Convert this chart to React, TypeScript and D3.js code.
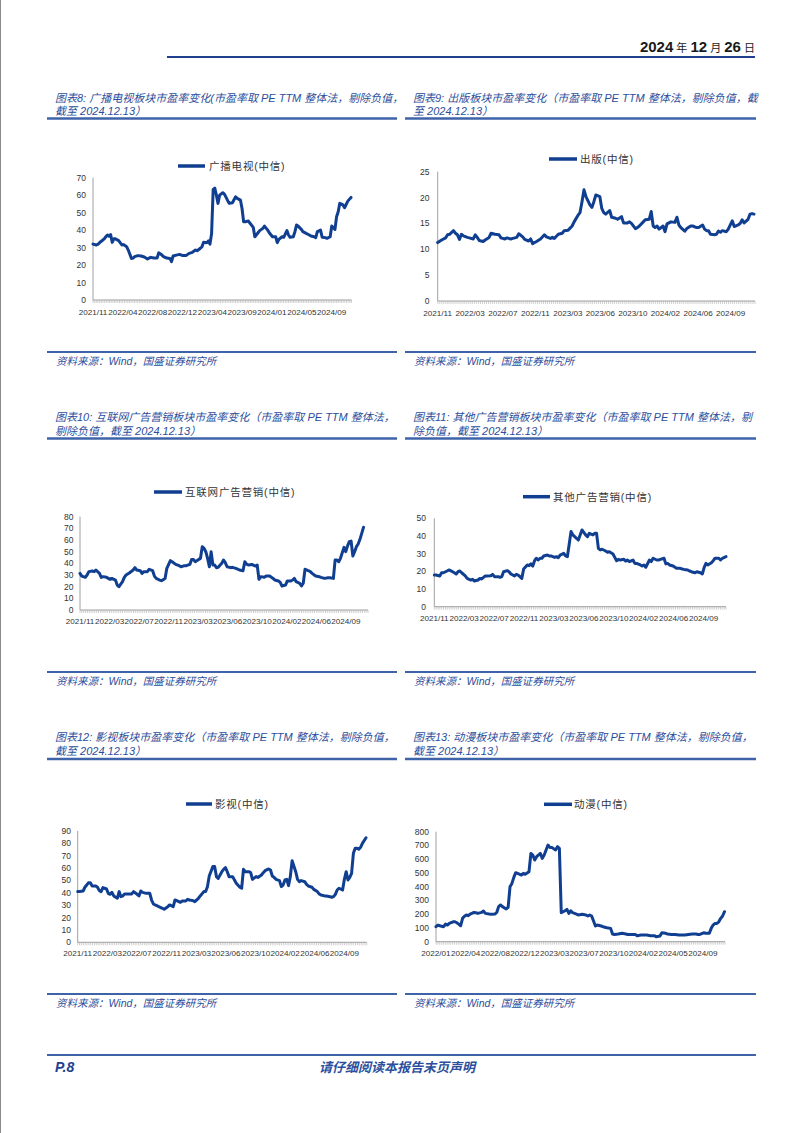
import React from 'react';
import * as d3 from 'd3';

// ---------- tick labels ----------
const bcLabels = ['2021/11', '2022/04', '2022/08', '2022/12', '2023/04', '2023/09', '2024/01', '2024/05', '2024/09'];
const pubLabels = ['2021/11', '2022/03', '2022/07', '2022/11', '2023/03', '2023/06', '2023/10', '2024/02', '2024/06', '2024/09'];
const netAdLabels = ['2021/11', '2022/03', '2022/07', '2022/11', '2023/03', '2023/06', '2023/10', '2024/02', '2024/06', '2024/09'];
const otherAdLabels = ['2021/11', '2022/03', '2022/07', '2022/11', '2023/03', '2023/06', '2023/10', '2024/02', '2024/06', '2024/09'];
const filmLabels = ['2021/11', '2022/03', '2022/07', '2022/11', '2023/03', '2023/06', '2023/10', '2024/02', '2024/06', '2024/09'];
const animLabels = ['2022/01', '2022/04', '2022/08', '2022/12', '2023/03', '2023/07', '2023/10', '2024/02', '2024/05', '2024/09'];

// ---------- series: [week index, PE TTM] ----------
const bcData: [number, number][] = [
  [0, 32], [2, 31.5], [3, 31.8], [5, 33.5], [7, 35], [8, 36.2], [9, 37.2], [10, 36.5], [11, 37.5], [12, 33], [13, 35], [14, 35], [16, 34], [18, 31.5], [19, 31.7], [21, 30.5], [22, 28.6], [24, 23.8], [25, 24], [26, 24.8], [28, 25.4], [30, 25.2], [32, 24.6], [34, 23.5], [36, 24.4], [38, 24], [40, 24], [41, 27], [43, 25.7], [44, 24.8], [46, 24], [48, 23.8], [49, 22], [50, 25.2], [52, 25.7], [54, 26.1], [56, 25.4], [58, 25.4], [60, 26.7], [62, 27.3], [64, 28.6], [65, 28.2], [67, 29.6], [68, 30.5], [69, 33], [71, 32.8], [72, 33.8], [73, 32], [74, 38], [75, 63.3], [76, 64], [77, 60], [78, 55.3], [79, 60], [81, 61.4], [82, 60.6], [84, 57], [85, 55.3], [87, 55.7], [89, 59.1], [90, 58.2], [92, 57.2], [93, 52.4], [94, 44.8], [95, 44.8], [97, 45.2], [98, 43.9], [100, 41.6], [101, 36.2], [103, 38.5], [104, 39.7], [106, 41], [107, 42.3], [109, 40], [110, 38.5], [112, 36.2], [114, 36.2], [115, 32.8], [116, 34.7], [118, 36.2], [119, 35.9], [121, 39.7], [122, 37.2], [123, 35.9], [125, 36.2], [126, 39.1], [127, 42.9], [128, 42.3], [130, 40.4], [131, 39.1], [133, 38.1], [135, 37.2], [136, 36.6], [138, 36.2], [139, 35.7], [140, 39.1], [142, 40], [143, 35.9], [145, 35.7], [146, 35.3], [148, 36.2], [149, 42.3], [151, 40.4], [152, 47.7], [153, 50.5], [154, 55.3], [156, 54.4], [157, 52.8], [159, 56.6], [161, 58.7],
];

const pubData: [number, number][] = [
  [0, 11.3], [2, 11.8], [4, 12.2], [5, 12.8], [6, 12.9], [8, 13.6], [9, 13.1], [10, 12.8], [11, 11.9], [12, 12.9], [13, 12.6], [15, 12.3], [16, 12.2], [18, 12], [19, 12.8], [20, 12.3], [21, 11.7], [23, 11.5], [24, 11.8], [26, 12.3], [27, 13.1], [29, 12.9], [31, 12.8], [32, 12.2], [34, 12], [35, 12.2], [37, 12], [38, 12.1], [40, 12.3], [41, 13], [43, 12.4], [44, 11.9], [46, 11.6], [47, 12], [48, 11.1], [50, 11.5], [52, 12], [54, 12.8], [55, 12.4], [57, 12.1], [58, 12.3], [59, 12.1], [61, 12.9], [63, 13.1], [64, 13.6], [66, 13.7], [68, 14.5], [69, 15.3], [71, 16.6], [72, 17.1], [73, 19.2], [74, 21.5], [75, 20.2], [77, 18.6], [78, 18.1], [79, 19.2], [80, 20.5], [82, 20.2], [83, 17.9], [84, 17.1], [85, 16.8], [87, 17.5], [88, 16.2], [90, 16], [91, 15.8], [93, 16.3], [94, 15.1], [96, 15.1], [97, 15.3], [98, 15], [100, 14], [101, 14.2], [102, 14.5], [104, 15.3], [105, 15.7], [107, 15.8], [108, 17.3], [109, 14.5], [110, 14.2], [111, 14.5], [112, 13.9], [114, 14.5], [115, 13.4], [116, 14.9], [118, 15.3], [120, 15.2], [121, 16.2], [122, 14.7], [123, 14.2], [125, 13.5], [126, 14], [128, 14.5], [129, 14.5], [131, 14.2], [132, 14.2], [134, 14.7], [135, 13.9], [136, 13.6], [137, 13.6], [138, 12.9], [140, 12.8], [141, 12.9], [142, 13.5], [143, 13.3], [144, 13.6], [146, 13.4], [147, 13.9], [148, 14.7], [149, 15.5], [150, 14.4], [152, 14.7], [153, 15], [154, 15.7], [155, 15.1], [157, 15.8], [158, 16.8], [159, 16.9], [160, 16.8],
];

const netAdData: [number, number][] = [
  [0, 31.4], [1, 29.1], [3, 28], [4, 30], [5, 32.9], [7, 33.4], [8, 32.9], [9, 34.3], [11, 31.4], [12, 28], [13, 28.6], [15, 28], [17, 26.3], [18, 27.1], [20, 25.7], [21, 21.4], [22, 20], [24, 24.3], [25, 28], [26, 30], [28, 32], [30, 34.3], [31, 36.3], [32, 34.3], [34, 33.7], [35, 31.4], [36, 32.9], [38, 32.9], [39, 34.9], [41, 33.7], [42, 29.1], [43, 27.1], [45, 25.7], [46, 25.1], [48, 27.1], [49, 35.7], [51, 42.3], [52, 41.4], [54, 39.1], [56, 38], [57, 37.1], [59, 38], [60, 38], [62, 39.1], [63, 43.4], [64, 43.4], [65, 41.4], [67, 43.4], [68, 44.3], [69, 54.3], [70, 52.9], [71, 50], [72, 44.3], [73, 37.1], [74, 50], [75, 38.6], [76, 38.6], [77, 36.3], [78, 36.6], [80, 40], [81, 42.9], [82, 40.6], [83, 37.1], [85, 36.3], [86, 36.6], [88, 35.7], [90, 34.3], [92, 33.7], [93, 41.4], [94, 39.4], [95, 38.6], [97, 39.1], [99, 37.7], [100, 38.6], [101, 26.3], [102, 28.6], [104, 28], [105, 29.1], [107, 29.1], [109, 27.1], [110, 25.7], [112, 24.9], [113, 23.7], [114, 20.6], [116, 21.4], [117, 24.9], [119, 24.9], [120, 25.7], [121, 27.1], [122, 24.3], [124, 22.9], [125, 20.6], [126, 22.9], [127, 34.9], [128, 34.3], [130, 32.9], [131, 31.4], [133, 29.1], [135, 28.6], [136, 28], [138, 27.1], [140, 27.7], [141, 27.7], [143, 27.1], [144, 42.9], [145, 42.9], [146, 41.4], [147, 44.3], [149, 53.7], [150, 50], [151, 55], [152, 58.6], [153, 59.1], [154, 46.3], [155, 50], [156, 54.3], [157, 56.6], [158, 60.6], [159, 65.7], [160, 70.9],
];

const otherAdData: [number, number][] = [
  [0, 17.9], [1, 17.9], [3, 17.4], [4, 19.2], [5, 19.2], [7, 20.2], [8, 20.8], [10, 19.8], [11, 19.2], [12, 18.5], [13, 19.8], [14, 20.2], [15, 19.2], [17, 17.4], [18, 16], [20, 15.1], [21, 15.5], [22, 14.5], [24, 15.1], [25, 16], [26, 15.7], [28, 17.4], [29, 17.4], [31, 17.5], [32, 18.3], [33, 17], [35, 17], [36, 16.6], [37, 17], [38, 19.8], [40, 20.4], [41, 19.8], [42, 18.5], [44, 17.4], [45, 18.3], [46, 17.9], [47, 17], [48, 16], [49, 21.3], [51, 23.6], [52, 23.2], [53, 24.2], [54, 23], [55, 26], [56, 27.4], [57, 26.4], [58, 27.4], [59, 27.4], [60, 28.7], [62, 29.2], [63, 28.7], [64, 28.7], [66, 27.9], [67, 28.3], [68, 27.7], [69, 29.2], [71, 30.2], [72, 28.7], [73, 28.3], [75, 42.5], [76, 40.6], [78, 38.7], [79, 37.7], [80, 40.6], [81, 43.4], [83, 40.6], [84, 39.6], [85, 41.5], [87, 40.6], [88, 41.5], [89, 41.5], [90, 33], [91, 32.1], [92, 32.5], [94, 31.5], [95, 30.8], [96, 31.1], [98, 29.8], [99, 27.9], [100, 26], [101, 26.8], [102, 26.4], [104, 26.8], [105, 25.8], [106, 26.4], [107, 25.5], [109, 26.4], [110, 24.5], [111, 24.5], [113, 23.6], [114, 23], [115, 23.6], [116, 22.3], [118, 26.4], [119, 25.5], [120, 27.4], [122, 26.4], [123, 26.4], [124, 26.8], [126, 27.4], [127, 24.2], [128, 24.5], [129, 23.6], [131, 23], [132, 22.3], [133, 21.7], [135, 21.7], [136, 21.3], [137, 21.1], [139, 20.8], [140, 20.2], [141, 19.8], [143, 19.2], [144, 19.8], [146, 19.2], [147, 18.5], [148, 22.1], [149, 24.5], [150, 23.6], [152, 24.9], [153, 26], [154, 27.4], [156, 27.4], [157, 26.4], [158, 27.4], [160, 28.3],
];

const filmData: [number, number][] = [
  [0, 41], [1, 41], [3, 41.5], [4, 44.5], [5, 46.3], [6, 48.2], [7, 48.2], [8, 45.5], [10, 45.5], [11, 44.5], [12, 41.8], [13, 41], [14, 44.2], [16, 43.1], [17, 39.6], [18, 38.8], [19, 40.4], [20, 37.5], [22, 35.6], [23, 41], [24, 36.9], [25, 37.5], [26, 39.1], [28, 39.1], [30, 39.1], [31, 41], [33, 38.8], [34, 37.5], [35, 41.5], [36, 40.4], [38, 39.6], [40, 39.6], [41, 34.2], [42, 31], [43, 30.2], [45, 28.8], [47, 27.5], [48, 26.7], [50, 28.8], [51, 30.2], [53, 28.8], [54, 34.2], [55, 33.7], [57, 32.3], [58, 33.4], [60, 33.4], [61, 34.8], [62, 34.2], [64, 33.7], [65, 32.9], [67, 35.6], [68, 37.5], [70, 41], [71, 41], [72, 45], [73, 53.6], [75, 61.2], [76, 61.2], [77, 53.1], [78, 51.7], [80, 57.1], [81, 59], [82, 60.4], [83, 57.1], [84, 53.1], [86, 53.1], [87, 50.4], [88, 47.7], [90, 44.5], [91, 43.7], [92, 59], [93, 57.1], [95, 57.1], [96, 56.3], [97, 50.9], [99, 53.1], [100, 52.5], [102, 54.4], [103, 56.3], [104, 57.9], [106, 59.3], [107, 58.5], [108, 53.6], [109, 52.5], [110, 50.9], [112, 49.9], [113, 45], [114, 46.3], [115, 50.4], [116, 50.9], [117, 45.8], [118, 53.1], [119, 66], [121, 57.1], [122, 50.9], [123, 49], [124, 49.9], [126, 49], [127, 46.9], [128, 45.5], [130, 44.5], [131, 42.8], [133, 41], [134, 39.1], [135, 38.3], [137, 37.5], [138, 37.5], [140, 36.9], [141, 36.4], [142, 36.9], [143, 38.8], [144, 42.3], [145, 43.7], [147, 42.3], [148, 50.9], [149, 57.1], [150, 50.4], [151, 52.5], [152, 55.8], [153, 72], [154, 76], [155, 76], [156, 75.2], [157, 76.8], [158, 80], [160, 84.5],
];

const animData: [number, number][] = [
  [0, 109], [1, 121], [2, 116], [4, 109], [5, 128], [6, 121], [7, 133], [9, 145], [10, 145], [11, 138], [12, 128], [13, 116], [14, 170], [15, 185], [16, 194], [17, 189], [18, 201], [20, 213], [21, 211], [22, 206], [24, 213], [25, 223], [26, 206], [28, 201], [29, 199], [31, 201], [32, 213], [33, 255], [34, 267], [35, 255], [37, 238], [38, 250], [39, 400], [40, 424], [41, 468], [42, 502], [43, 497], [45, 485], [46, 497], [47, 490], [49, 509], [50, 642], [51, 630], [52, 594], [53, 618], [55, 642], [56, 606], [57, 630], [58, 667], [59, 703], [60, 686], [61, 686], [63, 667], [64, 691], [65, 679], [66, 211], [67, 218], [68, 225], [69, 235], [70, 206], [71, 225], [72, 211], [74, 201], [75, 194], [77, 199], [79, 194], [80, 187], [81, 194], [82, 187], [84, 114], [85, 121], [87, 114], [88, 109], [90, 102], [92, 97], [93, 56], [94, 53], [96, 56], [98, 61], [100, 56], [101, 53], [103, 53], [105, 53], [106, 44], [108, 48], [109, 48], [111, 48], [113, 44], [115, 44], [116, 36], [118, 41], [119, 65], [121, 61], [122, 56], [124, 53], [126, 53], [128, 48], [130, 48], [131, 48], [133, 53], [135, 56], [137, 56], [138, 53], [139, 53], [141, 65], [142, 61], [143, 61], [144, 61], [145, 97], [146, 121], [147, 133], [148, 133], [149, 145], [150, 170], [151, 187], [152, 218],
];

// ---------- page texts ----------
const titleLines = [
  ['图表8: 广播电视板块市盈率变化(市盈率取 PE TTM 整体法，剔除负值，', '截至 2024.12.13）'],
  ['图表9: 出版板块市盈率变化（市盈率取 PE TTM 整体法，剔除负值，截', '至 2024.12.13）'],
  ['图表10: 互联网广告营销板块市盈率变化（市盈率取 PE TTM 整体法，', '剔除负值，截至 2024.12.13）'],
  ['图表11: 其他广告营销板块市盈率变化（市盈率取 PE TTM 整体法，剔', '除负值，截至 2024.12.13）'],
  ['图表12: 影视板块市盈率变化（市盈率取 PE TTM 整体法，剔除负值，', '截至 2024.12.13）'],
  ['图表13: 动漫板块市盈率变化（市盈率取 PE TTM 整体法，剔除负值，', '截至 2024.12.13）'],
];
const legendNames = ['广播电视(中信)', '出版(中信)', '互联网广告营销(中信)', '其他广告营销(中信)', '影视(中信)', '动漫(中信)'];
const sourceText = '资料来源：Wind，国盛证券研究所';

const LINE = '#103F91';
const BLUE_TXT = '#2C4E9C';
const RULE = '#3F63A8';
const AXIS = '#A0A0A0';
const LAT = "'Liberation Sans', Arial, sans-serif";
const CJK = "'Liberation Sans', 'Noto Sans CJK SC', sans-serif";

type Cfg = {
  data: [number, number][];
  last: number;
  nCats: number;
  labels: string[];
  labelStep: number;
  yMax: number;
  yStep: number;
  legend: string;
  x0: number; x1: number; xEnd: number; yBase: number; yTop: number;
  lx1: number; lx2: number; ly: number; ltx: number;
  labelY: number; yLabRight: number;
};

function Chart({ c }: { c: Cfg }) {
  const xd = d3.scaleLinear().domain([0, c.last]).range([c.x0, c.xEnd]);
  const xc = d3.scaleLinear().domain([0, c.nCats - 1]).range([c.x0, c.x1]);
  const y = d3.scaleLinear().domain([0, c.yMax]).range([c.yBase, c.yTop]);
  const line = d3.line<[number, number]>().x(d => xd(d[0])).y(d => y(d[1]));
  const yTicks = d3.range(0, c.yMax + c.yStep / 2, c.yStep);
  const cats = d3.range(c.nCats);
  return (
    <g>
      <line x1={c.lx1} x2={c.lx2} y1={c.ly} y2={c.ly} stroke={LINE} strokeWidth={3.5} />
      <text x={c.ltx} y={c.ly + 3.8} fontFamily={CJK} fontSize={10.5} letterSpacing={0.8} fill="#333">{c.legend}</text>
      <line x1={c.x0} x2={c.x0} y1={c.yBase} y2={c.yTop} stroke={AXIS} strokeWidth={1} />
      {cats.map(i => (
        <line key={i} x1={xc(i)} x2={xc(i)} y1={c.yBase} y2={c.yBase + 3} stroke="#B0B0B0" strokeWidth={0.6} />
      ))}
      <line x1={c.x0} x2={c.x1} y1={c.yBase} y2={c.yBase} stroke={AXIS} strokeWidth={1} />
      {yTicks.map(v => (
        <text key={v} x={c.yLabRight} y={y(v) + 3} textAnchor="end" fontFamily={LAT} fontSize={8.5} fill="#333">{v}</text>
      ))}
      {c.labels.map((l, i) => (
        <text key={l + i} x={xc(i * c.labelStep)} y={c.labelY + 3} textAnchor="middle" fontFamily={LAT} fontSize={8.1} fill="#333">{l}</text>
      ))}
      <path d={line(c.data) || ''} fill="none" stroke={LINE} strokeWidth={3} strokeLinejoin="round" strokeLinecap="round" />
    </g>
  );
}

const rows = [
  { t1: 102, t2: 114.5, ul: 118.5, src: 352, srcT: 364.5 },
  { t1: 421, t2: 434.5, ul: 438.5, src: 672, srcT: 684.5 },
  { t1: 741, t2: 754.5, ul: 759, src: 994, srcT: 1006.5 },
];

export default function App() {
  const cfgs: Cfg[] = [
    { data: bcData, last: 161, nCats: 157, labels: bcLabels, labelStep: 18, yMax: 70, yStep: 10, legend: legendNames[0],
      x0: 93, x1: 351.5, xEnd: 351, yBase: 300, yTop: 177.7, lx1: 178, lx2: 205, ly: 166, ltx: 209, labelY: 311.7, yLabRight: 86 },
    { data: pubData, last: 160, nCats: 157, labels: pubLabels, labelStep: 16, yMax: 25, yStep: 5, legend: legendNames[1],
      x0: 437.7, x1: 755, xEnd: 754, yBase: 301, yTop: 171.7, lx1: 549, lx2: 577, ly: 159, ltx: 580, labelY: 312.7, yLabRight: 429.5 },
    { data: netAdData, last: 160, nCats: 157, labels: netAdLabels, labelStep: 16, yMax: 80, yStep: 10, legend: legendNames[2],
      x0: 80, x1: 368, xEnd: 363.5, yBase: 610, yTop: 516.7, lx1: 154, lx2: 182, ly: 492, ltx: 185, labelY: 620.7, yLabRight: 73.5 },
    { data: otherAdData, last: 160, nCats: 157, labels: otherAdLabels, labelStep: 16, yMax: 50, yStep: 10, legend: legendNames[3],
      x0: 434.3, x1: 726, xEnd: 726, yBase: 606.7, yTop: 518.3, lx1: 523, lx2: 550, ly: 496.7, ltx: 553, labelY: 617.7, yLabRight: 426 },
    { data: filmData, last: 160, nCats: 157, labels: filmLabels, labelStep: 16, yMax: 90, yStep: 10, legend: legendNames[4],
      x0: 77.7, x1: 366.7, xEnd: 366, yBase: 942.3, yTop: 831, lx1: 186, lx2: 212, ly: 804, ltx: 215, labelY: 953.3, yLabRight: 71 },
    { data: animData, last: 152, nCats: 157, labels: animLabels, labelStep: 16, yMax: 800, yStep: 100, legend: legendNames[5],
      x0: 436, x1: 725, xEnd: 724.5, yBase: 941.7, yTop: 831.7, lx1: 544, lx2: 572, ly: 804.3, ltx: 574, labelY: 953.3, yLabRight: 429 },
  ];
  const cols = [{ l: 47, r: 397, tx: 55 }, { l: 405, r: 756, tx: 413 }];

  return (
    <svg width={802} height={1133} style={{ position: 'absolute', left: 0, top: 0, background: '#fff' }}>
      <rect x={0} y={0} width={802} height={1133} fill="#fff" />
      <line x1={0.5} x2={0.5} y1={0} y2={1133} stroke="#8a8a8a" strokeWidth={1} />
      {/* header */}
      <text x={755} y={51.5} textAnchor="end" fill="#1a1a1a" fontFamily={CJK}>
        <tspan fontWeight="bold" fontSize={15}>2024</tspan>
        <tspan fontSize={11}>{'  年  '}</tspan>
        <tspan fontWeight="bold" fontSize={15}>12</tspan>
        <tspan fontSize={11}>{' 月 '}</tspan>
        <tspan fontWeight="bold" fontSize={15}>26</tspan>
        <tspan fontSize={11}>{'  日'}</tspan>
      </text>
      <line x1={167} x2={755} y1={57} y2={57} stroke="#1F3F8F" strokeWidth={2} />

      {rows.map((r, ri) => cols.map((col, ci) => {
        const k = ri * 2 + ci;
        return (
          <g key={k}>
            <text x={col.tx} y={r.t1} fontFamily={CJK} fontSize={11} fontStyle="italic" fill={BLUE_TXT}>{titleLines[k][0]}</text>
            <text x={col.tx} y={r.t2} fontFamily={CJK} fontSize={11} fontStyle="italic" fill={BLUE_TXT}>{titleLines[k][1]}</text>
            <line x1={col.l} x2={col.r} y1={r.ul} y2={r.ul} stroke={RULE} strokeWidth={2.5} />
            <line x1={col.l} x2={col.r} y1={r.src} y2={r.src} stroke={RULE} strokeWidth={2} />
            <text x={col.tx + 1} y={r.srcT} fontFamily={CJK} fontSize={10.5} fontStyle="italic" fill={BLUE_TXT}>{sourceText}</text>
          </g>
        );
      }))}

      {cfgs.map((c, i) => <Chart key={i} c={c} />)}

      {/* footer */}
      <line x1={47} x2={756} y1={1055} y2={1055} stroke={RULE} strokeWidth={2} />
      <text x={55} y={1072} fontFamily={LAT} fontSize={14} fontWeight="bold" fontStyle="italic" fill="#1F3F8F">P.8</text>
      <text x={397} y={1071.5} textAnchor="middle" fontFamily={CJK} fontSize={13} fontWeight="bold" fontStyle="italic" fill="#2C4E9C">请仔细阅读本报告末页声明</text>
    </svg>
  );
}
